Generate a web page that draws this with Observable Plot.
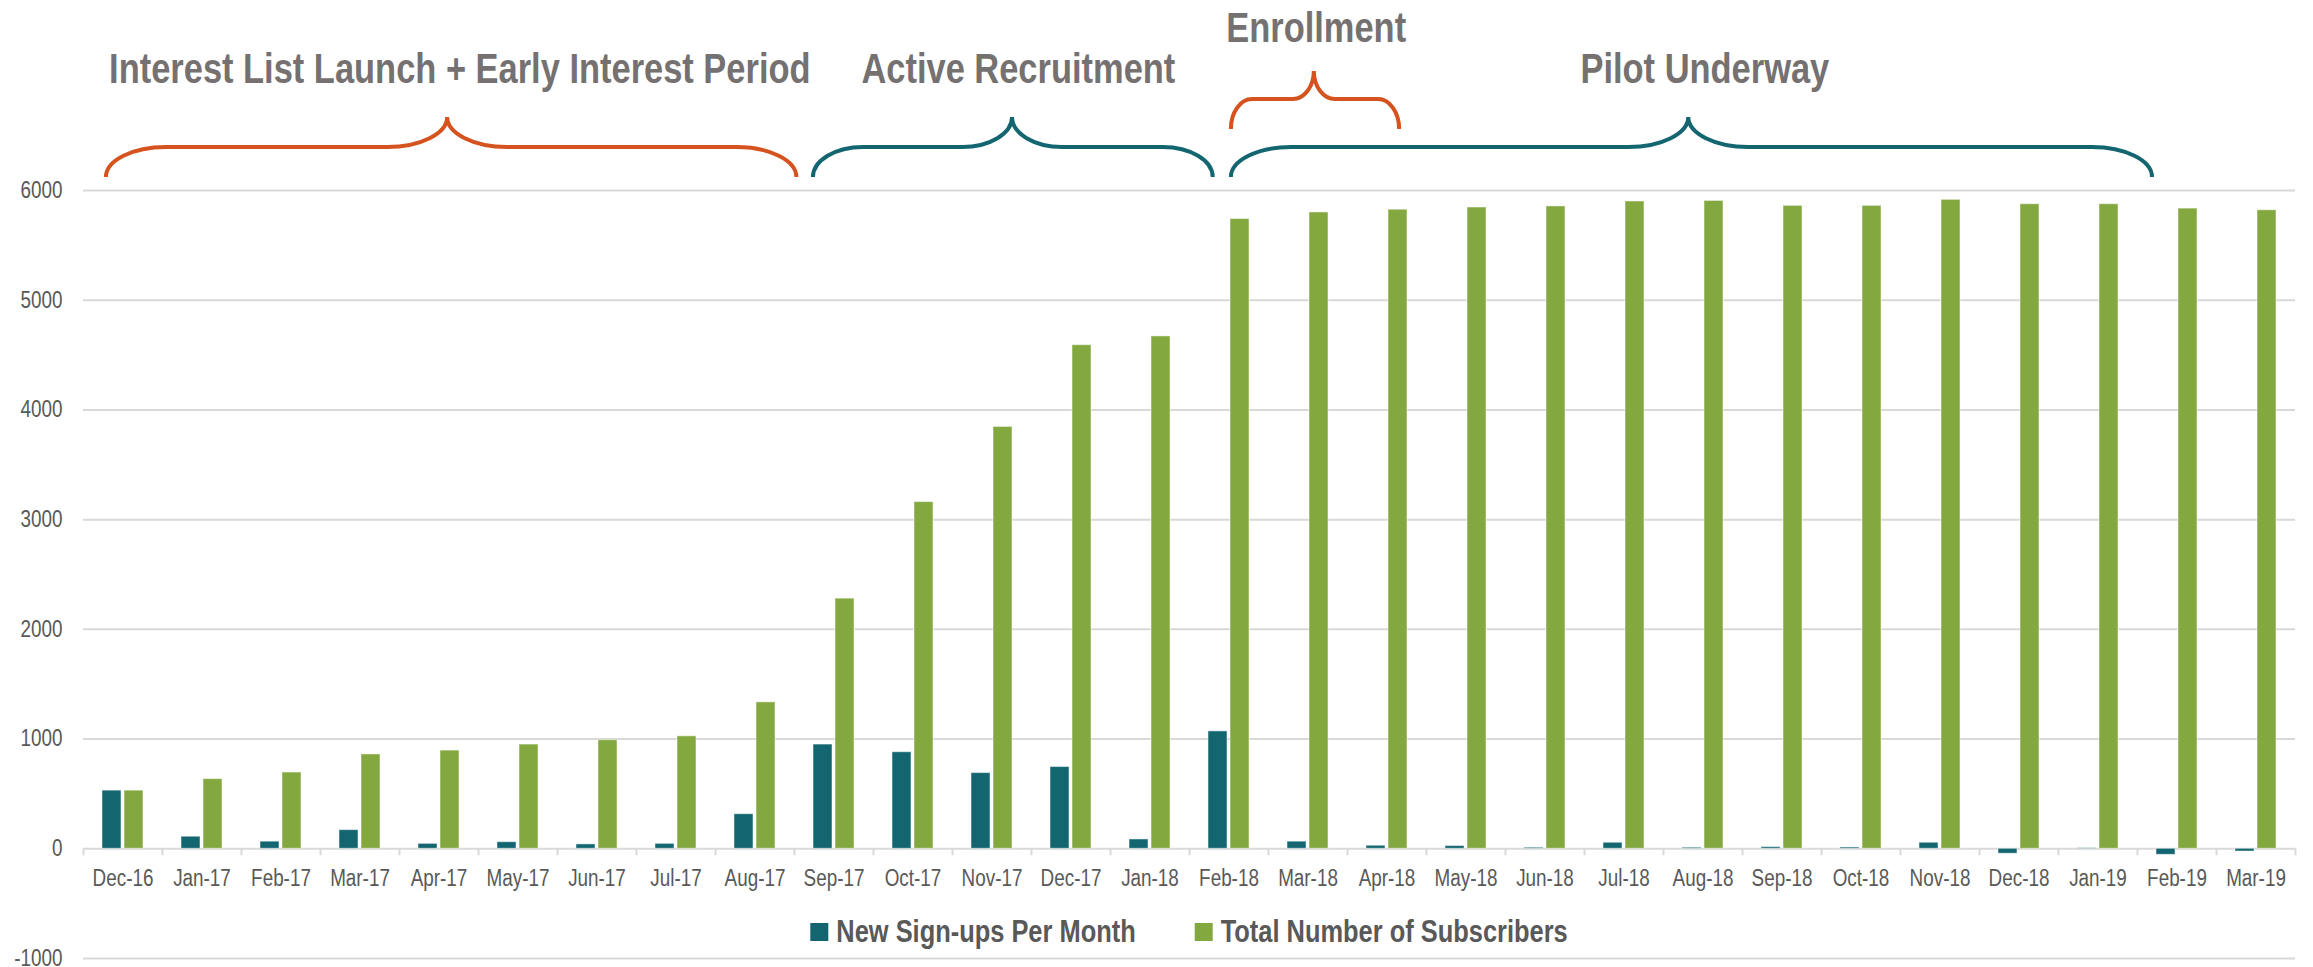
<!DOCTYPE html>
<html>
<head>
<meta charset="utf-8">
<script src="https://cdn.jsdelivr.net/npm/d3@7"></script>
<script src="https://cdn.jsdelivr.net/npm/@observablehq/plot@0.6"></script>
<style>
  html, body { margin: 0; padding: 0; background: #ffffff; overflow: hidden; }
  #chart { position: relative; width: 2313px; height: 967px; }
</style>
</head>
<body>
<div id="chart"></div>
<script>
// ---------------- data ----------------
const months = ["Dec-16","Jan-17","Feb-17","Mar-17","Apr-17","May-17","Jun-17","Jul-17","Aug-17",
  "Sep-17","Oct-17","Nov-17","Dec-17","Jan-18","Feb-18","Mar-18","Apr-18","May-18","Jun-18",
  "Jul-18","Aug-18","Sep-18","Oct-18","Nov-18","Dec-18","Jan-19","Feb-19","Mar-19"];
const newSignups = [530, 110, 65, 170, 45, 60, 40, 45, 315, 950, 880, 690, 745, 85, 1070,
  65, 28, 25, 10, 55, 10, 15, 12, 55, -45, 5, -55, -25];
const totals = [530, 635, 695, 860, 895, 950, 990, 1025, 1335, 2280, 3160, 3845, 4590, 4670,
  5740, 5800, 5825, 5845, 5855, 5900, 5905, 5860, 5860, 5915, 5875, 5875, 5835, 5820];
const seriesNames = ["New Sign-ups Per Month", "Total Number of Subscribers"];
const yTicks = [-1000, 0, 1000, 2000, 3000, 4000, 5000, 6000];
const phaseLabels = ["Interest List Launch + Early Interest Period", "Active Recruitment", "Enrollment", "Pilot Underway"];

// ---------------- layout / style ----------------
const W = 2313, H = 967, ML = 83, MR = 18, MT = 190, MB = 9;
const TEAL = "#136670", GREEN = "#84A840", ORANGE = "#D4531F";
const FONT = '"Liberation Sans", Arial, sans-serif';
const NARROW = 0.82; // Arial Narrow ≈ Arial compressed horizontally
const step = (W - ML - MR) / months.length;
const unitsPerPx = (yTicks[yTicks.length - 1] - yTicks[0]) / (H - MT - MB);

// phase annotations (positions in category units from the left edge of the first category)
const phaseLayout = [
  {start: 0.29, end: 9.03, tip: 4.61, textAt: 4.77, color: ORANGE, level: "main"},
  {start: 9.24, end: 14.30, tip: 11.76, textAt: 11.84, color: TEAL, level: "main"},
  {start: 14.53, end: 16.66, tip: 15.58, textAt: 15.61, color: ORANGE, level: "upper"},
  {start: 14.53, end: 26.19, tip: 20.32, textAt: 20.53, color: TEAL, level: "main"}
];
const levels = {
  main:  {bottom: 177, mid: 147, tip: 117, baseline: 83},
  upper: {bottom: 129, mid: 99,  tip: 71,  baseline: 42}
};

const rowsNew = months.map((m, i) => ({month: m, value: newSignups[i]}));
const rowsTot = months.map((m, i) => ({month: m, value: totals[i]}));
const barInset = (step - 19) / 2;

const plot = Plot.plot({
  width: W, height: H,
  marginLeft: ML, marginRight: MR, marginTop: MT, marginBottom: MB,
  style: {fontFamily: FONT, fontSize: "23px", color: "#595959", background: "#ffffff", overflow: "visible"},
  x: {type: "band", domain: months, padding: 0, axis: null},
  y: {domain: [yTicks[0], yTicks[yTicks.length - 1]], axis: null},
  marks: [
    Plot.gridY(yTicks, {stroke: "#d9d9d9", strokeOpacity: 1, strokeWidth: 2}),
    Plot.axisY(yTicks, {tickSize: 0, tickPadding: 21, tickFormat: d => String(d), label: null, fontSize: 23, fill: "#595959"}),
    Plot.ruleX(months, {x: d => d, y1: 0, y2: -7 * unitsPerPx, dx: -step / 2, stroke: "#d9d9d9", strokeWidth: 2}),
    Plot.ruleX([months[months.length - 1]], {x: d => d, y1: 0, y2: -7 * unitsPerPx, dx: step / 2, stroke: "#d9d9d9", strokeWidth: 2}),
    Plot.barY(rowsNew, {x: "month", y: "value", fill: TEAL, insetLeft: barInset, insetRight: barInset, dx: -11,
      stroke: "#ffffff", strokeOpacity: 0.5, strokeWidth: 1}),
    Plot.barY(rowsTot, {x: "month", y: "value", fill: GREEN, insetLeft: barInset, insetRight: barInset, dx: 11,
      stroke: "#ffffff", strokeOpacity: 0.5, strokeWidth: 1}),
    Plot.text(months, {x: d => d, y: () => 0, dy: 21, lineAnchor: "top", textAnchor: "middle",
      fontSize: 23, fill: "#595959"})
  ]
});

document.getElementById("chart").appendChild(plot);

// ---------------- annotations (braces + phase titles) ----------------
const xs = plot.scale("x");
const x0 = xs.apply(months[0]);
const px = u => x0 + u * step;
const svg = d3.select(plot);
const ann = svg.append("g").attr("class", "phases");

function bracePath(xL, xR, xT, lv) {
  const ry = lv.bottom - lv.mid, ryT = lv.mid - lv.tip;
  const r = Math.min(60, (xR - xL) / 8);
  return `M${xL},${lv.bottom} A${r},${ry} 0 0 1 ${xL + r},${lv.mid} L${xT - r},${lv.mid} ` +
    `A${r},${ryT} 0 0 0 ${xT},${lv.tip} A${r},${ryT} 0 0 0 ${xT + r},${lv.mid} ` +
    `L${xR - r},${lv.mid} A${r},${ry} 0 0 1 ${xR},${lv.bottom}`;
}

phaseLayout.forEach((p, i) => {
  const lv = levels[p.level];
  ann.append("path")
    .attr("d", bracePath(px(p.start), px(p.end), px(p.tip), lv))
    .attr("fill", "none").attr("stroke", p.color).attr("stroke-width", 4);
  ann.append("text")
    .attr("x", px(p.textAt)).attr("y", lv.baseline)
    .attr("text-anchor", "middle")
    .attr("font-family", FONT).attr("font-weight", "bold").attr("font-size", 42)
    .attr("fill", "#767171")
    .text(phaseLabels[i]);
});

// ---------------- condense all texts (Arial Narrow look) ----------------
function condense(sel) {
  sel.each(function () {
    const w = this.getComputedTextLength();
    if (w > 0) {
      this.setAttribute("textLength", (w * NARROW).toFixed(2));
      this.setAttribute("lengthAdjust", "spacingAndGlyphs");
    }
  });
}
condense(svg.selectAll("text"));

// ---------------- legend (inside plot area, as in the original) ----------------
const lg = svg.append("g").attr("class", "legend").attr("text-anchor", "start");
const colors = [TEAL, GREEN];
const sq = 18, gapSq = 8, gapItem = 59, legBaseline = 942;
const items = seriesNames.map((name, i) => {
  const t = lg.append("text").attr("y", legBaseline).attr("text-anchor", "start")
    .attr("font-family", FONT).attr("font-weight", "bold").attr("font-size", 31)
    .attr("fill", "#595959").text(name);
  const w = t.node().getComputedTextLength() * NARROW;
  t.attr("textLength", w.toFixed(2)).attr("lengthAdjust", "spacingAndGlyphs");
  return {t, w, color: colors[i]};
});
const total = items.reduce((s, it) => s + sq + gapSq + it.w, 0) + gapItem * (items.length - 1);
let cx = (ML + (W - MR)) / 2 - total / 2;
items.forEach(it => {
  lg.append("rect").attr("x", cx).attr("y", legBaseline - 19).attr("width", sq).attr("height", sq)
    .attr("fill", it.color);
  it.t.attr("x", cx + sq + gapSq);
  cx += sq + gapSq + it.w + gapItem;
});
</script>
</body>
</html>
